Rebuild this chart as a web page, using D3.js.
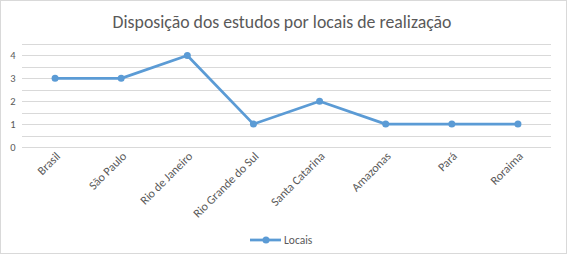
<!DOCTYPE html>
<html>
<head>
<meta charset="utf-8">
<script src="https://cdn.jsdelivr.net/npm/d3@7"></script>
<style>
  body { margin: 0; background: #fff; }
  text { font-family: Carlito, Calibri, "Open Sans", "Noto Sans", sans-serif; }
</style>
</head>
<body>
<div id="chart"></div>
<script>
var categories = ['Brasil', 'São Paulo', 'Rio de Janeiro', 'Rio Grande do Sul', 'Santa Catarina', 'Amazonas', 'Pará', 'Roraima']
var values = [3, 3, 4, 1, 2, 1, 1, 1]
var yTicks = [0, 1, 2, 3, 4]
var gridTicks = [0, 0.5, 1, 1.5, 2, 2.5, 3, 3.5, 4, 4.5]
var seriesName = 'Locais'
var title = 'Disposição dos estudos por locais de realização'

var width = 567
	, height = 254
	, margin = { left: 22, right: 16, top: 44, bottom: 107 }
	, lineColor = '#5b9bd5'
	, textColor = '#595959'

var svg = d3.select('#chart').append('svg')
	.attr('width', width)
	.attr('height', height)

// chart area border
svg.append('rect')
	.attr('x', 0.5).attr('y', 0.5)
	.attr('width', width - 1).attr('height', height - 1)
	.attr('fill', '#fff')
	.attr('stroke', '#d9d9d9')

svg.append('text')
	.attr('x', 282)
	.attr('y', 28)
	.attr('text-anchor', 'middle')
	.attr('font-size', 17.8)
	.attr('fill', textColor)
	.text(title)

var x = d3.scaleBand()
	.domain(categories)
	.range([margin.left, width - margin.right])

var y = d3.scaleLinear()
	.domain([0, 4.5])
	.range([height - margin.bottom, margin.top])

// gridlines
svg.append('g')
	.selectAll('line')
	.data(gridTicks)
	.join('line')
	  .attr('x1', margin.left)
	  .attr('x2', width - margin.right)
	  .attr('y1', function(d) { return Math.round(y(d)) + 0.5 })
	  .attr('y2', function(d) { return Math.round(y(d)) + 0.5 })
	  .attr('stroke', '#d9d9d9')
	  .attr('stroke-width', 1)

// y labels
svg.append('g')
	.selectAll('text')
	.data(yTicks)
	.join('text')
	  .attr('x', 13)
	  .attr('y', function(d) { return y(d) + 3.5 })
	  .attr('text-anchor', 'middle')
	  .attr('font-size', 10.5)
	  .attr('fill', textColor)
	  .text(function(d) { return d })

// x labels, rotated
svg.append('g')
	.selectAll('text')
	.data(categories)
	.join('text')
	  .attr('transform', function(d) {
		  return 'translate(' + (x(d) + x.bandwidth() / 2 + 3) + ',' + (height - margin.bottom + 7) + ') rotate(-45)'
	  })
	  .attr('text-anchor', 'end')
	  .attr('dy', '0.35em')
	  .attr('font-size', 12)
	  .attr('fill', textColor)
	  .text(function(d) { return d })

var pts = categories.map(function(c, i) { return [x(c) + x.bandwidth() / 2, y(values[i])] })

svg.append('path')
	.datum(pts)
	.attr('d', d3.line())
	.attr('fill', 'none')
	.attr('stroke', lineColor)
	.attr('stroke-width', 2.75)
	.attr('stroke-linejoin', 'round')

svg.append('g')
	.selectAll('circle')
	.data(pts)
	.join('circle')
	  .attr('cx', function(d) { return d[0] })
	  .attr('cy', function(d) { return d[1] })
	  .attr('r', 3.5)
	  .attr('fill', lineColor)

// legend
var lg = svg.append('g').attr('transform', 'translate(250,240)')
lg.append('line')
	.attr('x1', 0).attr('x2', 31)
	.attr('stroke', lineColor)
	.attr('stroke-width', 2.75)
lg.append('circle')
	.attr('cx', 16).attr('r', 3.5)
	.attr('fill', lineColor)
lg.append('text')
	.attr('x', 34)
	.attr('y', 4)
	.attr('font-size', 11.5)
	.attr('fill', textColor)
	.text(seriesName)
</script>
</body>
</html>
